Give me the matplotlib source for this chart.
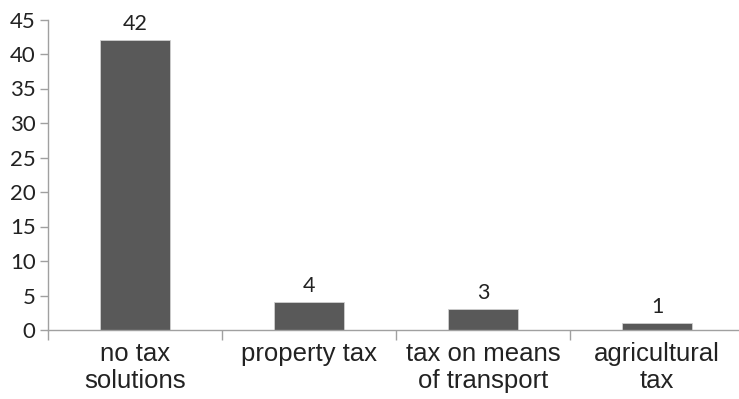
import matplotlib.pyplot as plt
import numpy as np

categories = ['no tax\nsolutions', 'property tax', 'tax on means\nof transport', 'agricultural\ntax']
values = [42, 4, 3, 1]
y_ticks = [0, 5, 10, 15, 20, 25, 30, 35, 40, 45]

fig = plt.figure(figsize=(7.39, 3.99), dpi=100)
ax = fig.add_axes([48 / 739, 69 / 399, 691 / 739, 310.5 / 399])

x = np.arange(len(categories))
ax.bar(x, values, width=0.40, color='#595959', edgecolor='#d0d0d0', linewidth=0.6, zorder=2)

for xi, v in zip(x, values):
    ax.text(xi, v + 0.9, str(v), ha='center', va='bottom', fontsize=15.5, family='Lato', color='#222222')

# last category runs slightly past the right edge, as in the original
ax.set_xlim(-0.5, -0.5 + 691 / 174)
ax.set_ylim(0, 45)
ax.set_yticks(y_ticks)
ax.set_yticklabels([str(t) for t in y_ticks], fontsize=16, family='Lato', color='#222222')

# category labels between boundary ticks
ax.set_xticks(np.arange(len(categories)) - 0.5)
ax.set_xticklabels([])
ax.tick_params(axis='x', length=7, color='#a0a0a0', width=1)
ax.tick_params(axis='y', length=6, color='#a0a0a0', width=1, pad=3)
for xi, lab in zip(x, categories):
    ax.text(xi, -1.8, lab, ha='center', va='top', fontsize=18.5, family='Liberation Sans',
            color='#222222', linespacing=1.12)

for side in ['top', 'right']:
    ax.spines[side].set_visible(False)
for side in ['left', 'bottom']:
    ax.spines[side].set_color('#a0a0a0')
    ax.spines[side].set_linewidth(1)

fig.savefig('out.png', dpi=100)
